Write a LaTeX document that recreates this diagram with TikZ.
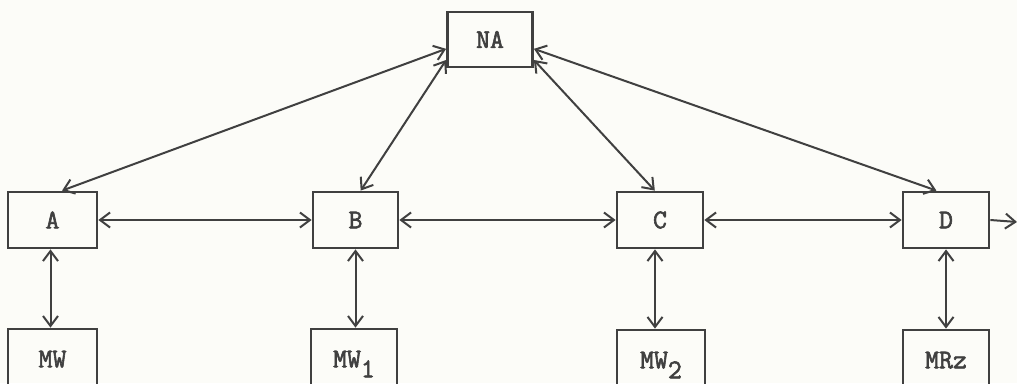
\documentclass[tikz,border=0pt]{standalone}
\usepackage{fontspec}
\newfontfamily\typew{Latin Modern Mono}[FakeBold=2.2]
\usetikzlibrary{arrows.meta}
\definecolor{ink}{HTML}{404040}
\definecolor{paper}{HTML}{FCFCF8}
\begin{document}
\begin{tikzpicture}[x=1pt,y=-1pt,
  box/.style={draw=ink,line width=2.8pt,minimum height=56pt,inner sep=0pt,
    font=\typew\bfseries\fontsize{27}{27}\selectfont,text=ink},
  barb/.tip={Straight Barb[length=10pt,width=15pt,line width=2pt]},
  link/.style={draw=ink,line width=2pt,barb-barb},
  outlink/.style={draw=ink,line width=2pt,-barb}]
\fill[paper] (0,0) rectangle (1017,383);
\useasboundingbox (0,0) rectangle (1017,383);
\clip (0,0) rectangle (1017,383);
\node[box,minimum width=85pt,minimum height=55pt] (NA) at (490,39.5) {NA};
\node[box,minimum width=89pt] (A) at (52.5,220) {A};
\node[box,minimum width=85pt] (B) at (355.5,220) {B};
\node[box,minimum width=86pt] (C) at (660,220) {C};
\node[box,minimum width=86pt] (D) at (946,220) {D};
\node[box,minimum width=89pt,minimum height=72pt] (MW) at (52.5,365) {\raisebox{12pt}{MW}};
\node[box,minimum width=86pt,minimum height=72pt] (MW1) at (354,365) {\raisebox{12pt}{MW\raisebox{-10pt}{1}}};
\node[box,minimum width=88pt,minimum height=72pt] (MW2) at (661,366) {\raisebox{12pt}{MW\raisebox{-10pt}{2}}};
\node[box,minimum width=86pt,minimum height=72pt] (MRz) at (946,366) {\raisebox{12pt}{MRz}};
\coordinate (E) at (1017,222);
% NA links
\draw[link] (NA.192) -- (A.72);
\draw[link] (NA.205) -- (B.80);
\draw[link] (NA.335) -- (C.100);
\draw[link] (NA.348) -- (D.108);
% horizontal links
\draw[link] (A.east) -- (B.west);
\draw[link] (B.east) -- (C.west);
\draw[link] (C.east) -- (D.west);
\draw[outlink] (D.east) -- (E);
% vertical links
\draw[link] ([xshift=-2pt]A.south) -- ([xshift=-2pt]MW.north);
\draw[link] (B.south) -- ([xshift=1.5pt]MW1.north);
\draw[link] ([xshift=-5pt]C.south) -- ([xshift=-6pt]MW2.north);
\draw[link] (D.south) -- (MRz.north);
\end{tikzpicture}
\end{document}
